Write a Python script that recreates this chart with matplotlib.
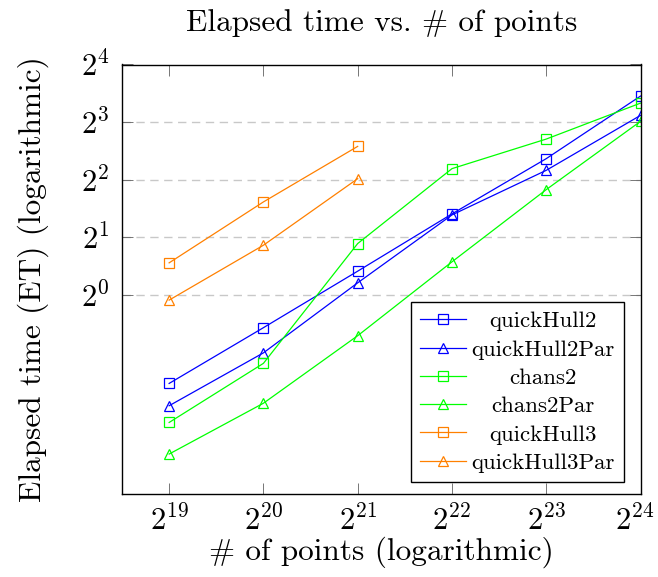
import matplotlib
matplotlib.use("Agg")
import matplotlib.pyplot as plt
import matplotlib.transforms as mtransforms
from matplotlib.ticker import FixedLocator, LogFormatterMathtext, NullLocator

plt.rcParams['font.family'] = 'serif'
plt.rcParams['font.serif'] = ['cmr10']
plt.rcParams['mathtext.fontset'] = 'cm'
plt.rcParams['axes.formatter.use_mathtext'] = True
plt.rcParams['axes.unicode_minus'] = False

# data: number of points, elapsed time (seconds)
n_points = [2**19, 2**20, 2**21, 2**22, 2**23, 2**24]
n_points_qh3 = [2**19, 2**20, 2**21]
quickHull2 = [0.344, 0.673, 1.329, 2.648, 5.15, 10.94]
quickHull2Par = [0.263, 0.497, 1.155, 2.615, 4.475, 8.67]
chans2 = [0.215, 0.438, 1.853, 4.566, 6.52, 10.05]
chans2Par = [0.147, 0.271, 0.611, 1.487, 3.548, 8.07]
quickHull3 = [1.469, 3.059, 5.97]
quickHull3Par = [0.938, 1.816, 4.047]

x_ticks = [2**19, 2**20, 2**21, 2**22, 2**23, 2**24]
y_ticks = [2**0, 2**1, 2**2, 2**3, 2**4]

BLUE = '#0000ff'
GREEN = '#00ff00'
ORANGE = '#ff8000'

fig = plt.figure(figsize=(6.58, 5.77), dpi=100)
ax = fig.add_axes([122/658, 1-494/577, 518.5/658, 429.5/577])

series = [
    (n_points, quickHull2, BLUE, 's', 'quickHull2'),
    (n_points, quickHull2Par, BLUE, '^', 'quickHull2Par'),
    (n_points, chans2, GREEN, 's', 'chans2'),
    (n_points, chans2Par, GREEN, '^', 'chans2Par'),
    (n_points_qh3, quickHull3, ORANGE, 's', 'quickHull3'),
    (n_points_qh3, quickHull3Par, ORANGE, '^', 'quickHull3Par'),
]
for xs, ys, c, m, lab in series:
    ax.plot(xs, ys, color=c, lw=0.9, marker=m, markersize=7.5 if m == 's' else 7,
            markerfacecolor='none', markeredgecolor=c, markeredgewidth=0.9, label=lab)

ax.set_xscale('log', base=2)
ax.set_yscale('log', base=2)
ax.set_xlim(2**18.5, 2**24)
ax.set_ylim(2**-3.46, 2**4)
ax.xaxis.set_major_locator(FixedLocator(x_ticks))
ax.yaxis.set_major_locator(FixedLocator(y_ticks))
ax.xaxis.set_minor_locator(NullLocator())
ax.yaxis.set_minor_locator(NullLocator())
ax.xaxis.set_major_formatter(LogFormatterMathtext(base=2))
ax.yaxis.set_major_formatter(LogFormatterMathtext(base=2))

ax.grid(True, axis='y', color='#c8c8c8', linestyle=(0, (6, 4)), lw=1.0)
ax.tick_params(which='major', direction='in', length=8, width=0.6, color='#606060',
               top=True, right=True, labelsize=22)
ax.tick_params(axis='x', pad=8)
ax.tick_params(axis='y', pad=9)
for sp in ax.spines.values():
    sp.set_linewidth(1.0)

ax.set_title('Elapsed time vs. # of points', fontsize=22.5, pad=24)
ax.set_xlabel('# of points (logarithmic)', fontsize=22.5, labelpad=0)
ax.set_ylabel('Elapsed time (ET) (logarithmic)', fontsize=22.5, labelpad=23)

leg = ax.legend(loc='lower right', bbox_to_anchor=(0.968, 0.028), fontsize=16.5,
                frameon=True, fancybox=False, edgecolor='black', framealpha=1,
                handlelength=2.0, handletextpad=0.25, labelspacing=0.36,
                borderpad=0.4, borderaxespad=0)
leg.get_frame().set_linewidth(1.0)

# center legend text like the reference
fig.canvas.draw()
r = fig.canvas.get_renderer()
texts = leg.get_texts()
widths = [t.get_window_extent(r).width for t in texts]
mw = max(widths)
for t, w in zip(texts, widths):
    t.set_x((mw - w) / 2)

# keep the last x tick label inside the canvas
last = ax.get_xticklabels()[-1]
last.set_transform(last.get_transform() +
                   mtransforms.ScaledTranslation(-4/72, 0, fig.dpi_scale_trans))

fig.savefig('out.png', dpi=100)
